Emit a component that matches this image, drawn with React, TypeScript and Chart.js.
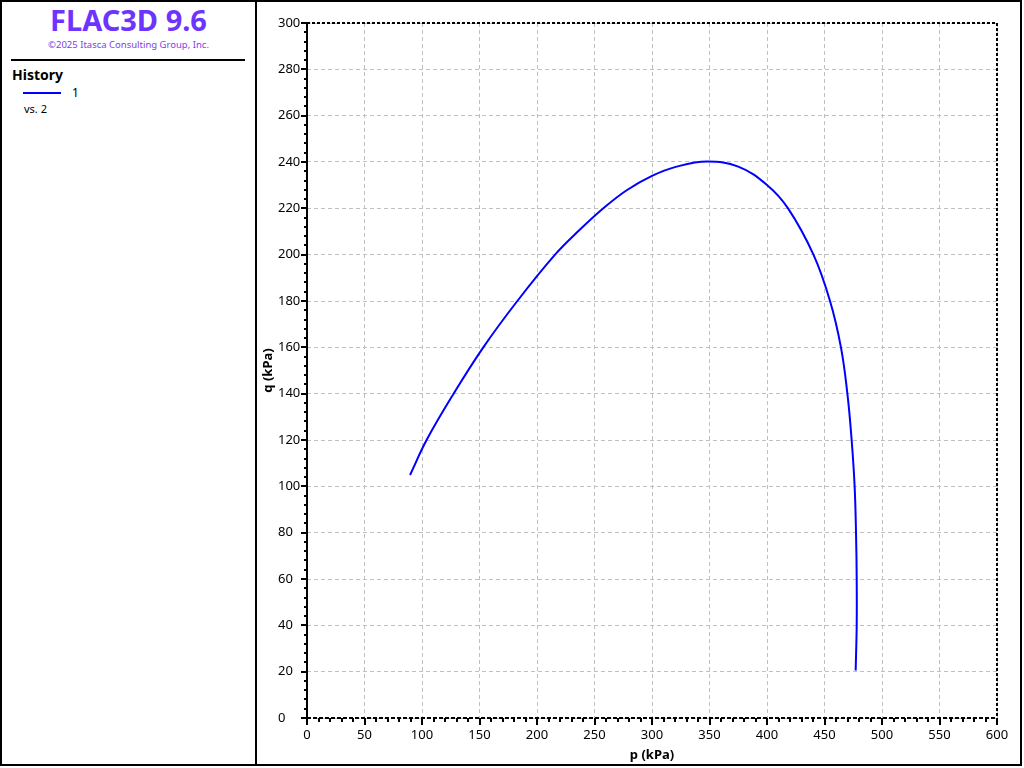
import React, { useEffect, useRef } from "react";
import { Chart, registerables } from "chart.js";

Chart.register(...registerables);

// p (kPa) and q (kPa) values
const pValues = [
  89.6, 104, 127.5, 153.3, 182.9, 215.7, 236.7, 257.7, 278, 300, 321.4, 348,
  375, 400, 418.3, 440.4, 454.8, 464.3, 469.9, 473.6, 476.2, 477.4, 478, 478,
  477.1,
];
const qValues = [
  104.9, 120, 140, 160, 180, 200, 210.5, 220, 227.8, 234, 238, 240.2,
  238, 230.1, 220, 200, 180, 160, 140, 120, 100, 80, 60, 40,
  20.5,
];

const xMin = 0;
const xMax = 600;
const xStep = 50;
const xMinorStep = 10;
const yMin = 0;
const yMax = 300;
const yStep = 20;
const yMinorStep = 4;

const seriesLabel = "1";
const seriesSub = "vs. 2";
const xTitle = "p (kPa)";
const yTitle = "q (kPa)";

const FONT = '"Noto Sans", "DejaVu Sans", sans-serif';

const axesPlugin = {
  id: "axesDeco",
  afterDraw(chart: any) {
    const { ctx, chartArea, scales } = chart;
    const { left, right, top, bottom } = chartArea;
    const x = scales.x;
    const y = scales.y;
    ctx.save();
    ctx.strokeStyle = "#000";
    ctx.lineWidth = 2;
    ctx.setLineDash([3, 2]);
    ctx.beginPath();
    ctx.moveTo(left, top);
    ctx.lineTo(right, top);
    ctx.moveTo(right, top);
    ctx.lineTo(right, bottom);
    ctx.stroke();
    ctx.setLineDash([4, 2]);
    ctx.beginPath();
    ctx.moveTo(left, bottom);
    ctx.lineTo(right, bottom);
    ctx.stroke();
    ctx.setLineDash([]);
    ctx.beginPath();
    ctx.moveTo(left, top);
    ctx.lineTo(left, bottom + 1);
    ctx.stroke();
    for (let v = xMin; v <= xMax + 1e-9; v += xMinorStep) {
      const px = Math.round(x.getPixelForValue(v));
      const major = Math.abs(v % xStep) < 1e-6;
      const len = major ? 7 : 4;
      ctx.beginPath();
      ctx.moveTo(px, bottom);
      ctx.lineTo(px, bottom + len);
      ctx.stroke();
    }
    for (let v = yMin; v <= yMax + 1e-9; v += yMinorStep) {
      const py = Math.round(y.getPixelForValue(v));
      const major = Math.abs(v % yStep) < 1e-6;
      const len = major ? 6 : 3;
      ctx.beginPath();
      ctx.moveTo(left, py);
      ctx.lineTo(left - len, py);
      ctx.stroke();
    }
    ctx.fillStyle = "#000";
    ctx.font = `bold 13px ${FONT}`;
    ctx.textAlign = "center";
    ctx.textBaseline = "middle";
    ctx.translate(11, (top + bottom) / 2);
    ctx.rotate(-Math.PI / 2);
    ctx.fillText(yTitle, 0, 0);
    ctx.restore();
  },
};

function ChartCanvas() {
  const ref = useRef<HTMLCanvasElement | null>(null);
  useEffect(() => {
    if (!ref.current) return;
    const points = pValues.map((p, i) => ({ x: p, y: qValues[i] }));
    const chart = new Chart(ref.current, {
      type: "scatter",
      data: {
        datasets: [
          {
            label: seriesLabel,
            data: points,
            showLine: true,
            borderColor: "#0000ff",
            backgroundColor: "#0000ff",
            borderWidth: 2,
            pointRadius: 0,
            tension: 0.4,
          },
        ],
      },
      options: {
        animation: false,
        responsive: false,
        maintainAspectRatio: false,
        layout: { padding: { left: 21, top: 21, right: 23, bottom: 0 } },
        plugins: {
          legend: { display: false },
          tooltip: { enabled: false },
        },
        scales: {
          x: {
            type: "linear",
            min: xMin,
            max: xMax,
            ticks: {
              stepSize: xStep,
              autoSkip: false,
              maxRotation: 0,
              padding: 9,
              color: "#000",
              font: { family: FONT, size: 13 },
            },
            grid: {
              color: "#c0c0c0",
              lineWidth: 1,
              drawTicks: false,
            },
            border: { display: false, dash: [4, 3] },
            title: {
              display: true,
              text: xTitle,
              color: "#000",
              font: { family: FONT, size: 13, weight: "bold" },
              padding: { top: 0, bottom: 1 },
            },
            afterFit(scale: any) {
              scale.height = 46;
            },
          },
          y: {
            type: "linear",
            min: yMin,
            max: yMax,
            ticks: {
              stepSize: yStep,
              autoSkip: false,
              crossAlign: "far",
              padding: 8,
              color: "#000",
              font: { family: FONT, size: 13 },
            },
            grid: {
              color: "#c0c0c0",
              lineWidth: 1,
              drawTicks: false,
            },
            border: { display: false, dash: [4, 3] },
            afterFit(scale: any) {
              scale.width = 29;
            },
          },
        },
      },
      plugins: [axesPlugin],
    } as any);
    return () => chart.destroy();
  }, []);
  return <canvas ref={ref} width={763} height={762} style={{ display: "block", width: 763, height: 762 }} />;
}

export default function App() {
  useEffect(() => {
    document.body.style.margin = "0";
  }, []);
  return (
    <div
      style={{
        position: "absolute",
        left: 0,
        top: 0,
        width: 1022,
        height: 766,
        border: "2px solid #000",
        boxSizing: "border-box",
        background: "#fff",
        fontFamily: FONT,
        color: "#000",
        overflow: "hidden",
      }}
    >
      <div style={{ position: "absolute", left: 0, top: 0, width: 253, height: 762 }}>
        <div
          style={{
            position: "absolute",
            left: 0,
            top: 3,
            width: 253,
            textAlign: "center",
            fontSize: 29,
            lineHeight: "29px",
            fontWeight: 700,
            color: "#6e34ff",
            whiteSpace: "nowrap",
          }}
        >
          FLAC3D 9.6
        </div>
        <div
          style={{
            position: "absolute",
            left: 0,
            top: 37,
            width: 253,
            textAlign: "center",
            fontSize: 9.5,
            lineHeight: "12px",
            color: "#8040e8",
            whiteSpace: "nowrap",
          }}
        >
          ©2025 Itasca Consulting Group, Inc.
        </div>
        <div style={{ position: "absolute", left: 9, top: 57, width: 234, height: 2, background: "#000" }} />
        <div
          style={{
            position: "absolute",
            left: 10,
            top: 64,
            fontSize: 14,
            lineHeight: "18px",
            fontWeight: 700,
            whiteSpace: "nowrap",
          }}
        >
          History
        </div>
        <div style={{ position: "absolute", left: 21, top: 90, width: 38, height: 2, background: "#0000ff" }} />
        <div style={{ position: "absolute", left: 70, top: 83, fontSize: 12, lineHeight: "16px" }}>{seriesLabel}</div>
        <div style={{ position: "absolute", left: 22, top: 100, fontSize: 11, lineHeight: "14px" }}>{seriesSub}</div>
      </div>
      <div style={{ position: "absolute", left: 253, top: 0, width: 2, height: 762, background: "#000" }} />
      <div style={{ position: "absolute", left: 255, top: 0, width: 763, height: 762 }}>
        <ChartCanvas />
      </div>
    </div>
  );
}
